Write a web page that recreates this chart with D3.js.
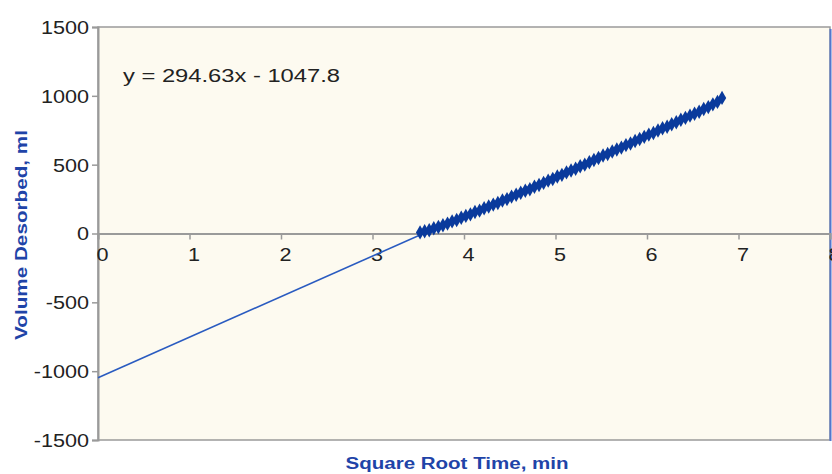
<!DOCTYPE html>
<html>
<head>
<meta charset="utf-8">
<script src="https://cdn.jsdelivr.net/npm/d3@7"></script>
<style>
  body { margin: 0; background: #fff; }
  svg { display: block; font-family: "Liberation Sans", Arial, sans-serif; }
</style>
</head>
<body>
<div id="chart"></div>
<script>
var W = 832, H = 474;
var margin = {left: 98, right: 2, top: 27, bottom: 34};

// sqrt time (min^0.5) and volume desorbed (ml)
var sqrtTime = [3.52,3.57,3.62,3.67,3.72,3.77,3.82,3.87,3.92,3.97,4.02,4.07,4.12,4.17,4.22,4.27,4.32,4.37,4.42,4.47,
  4.52,4.57,4.62,4.67,4.72,4.77,4.82,4.87,4.92,4.97,5.02,5.07,5.12,5.17,5.22,5.27,5.32,5.37,5.42,5.47,
  5.52,5.57,5.62,5.67,5.72,5.77,5.82,5.87,5.92,5.97,6.02,6.07,6.12,6.17,6.22,6.27,6.32,6.37,6.42,6.47,
  6.52,6.57,6.62,6.67,6.72,6.77,6.82];
var volume = [8,16,24,38,47,60,72,88,98,115,128,139,156,166,184,196,210,222,240,250,
  268,281,296,310,322,340,352,368,384,396,414,426,444,458,470,488,500,518,534,548,
  566,578,596,610,624,642,654,672,686,702,718,730,748,764,776,794,808,826,840,856,
  870,884,904,918,938,956,985];

// linear trendline
var slope = 294.63, intercept = -1047.8;
var trendX = [0, 6.82];
var eqLabel = "y = 294.63x - 1047.8";

var xTicks = [0,1,2,3,4,5,6,7,8];
var yTicks = [-1500,-1000,-500,0,500,1000,1500];

var svg = d3.select("#chart").append("svg")
    .attr("width", W).attr("height", H);

var x = d3.scaleLinear().domain([0, 8]).range([margin.left, W - margin.right]);
var y = d3.scaleLinear().domain([-1500, 1500]).range([H - margin.bottom, margin.top]);

// widen text like the original (stretched image)
function stretch(sel, k) {
  sel.each(function() {
    var len = this.getComputedTextLength();
    d3.select(this).attr("textLength", len * k).attr("lengthAdjust", "spacingAndGlyphs");
  });
}

// plot area
svg.append("rect")
    .attr("x", x(0)).attr("y", y(1500))
    .attr("width", x(8) - x(0)).attr("height", y(-1500) - y(1500))
    .attr("fill", "#fdfaf0")
    .attr("stroke", "#9a9a9a").attr("stroke-width", 1.5);

// right frame edge
svg.append("line")
    .attr("x1", x(8) + 0.5).attr("x2", x(8) + 0.5)
    .attr("y1", y(1500) + 2).attr("y2", y(-1500) + 1)
    .attr("stroke", "#5577cc").attr("stroke-width", 2);

var fmt = function(d) { return String(d).replace("\u2212", "-"); };

// y axis
var yAxis = svg.append("g")
    .attr("transform", "translate(" + x(0) + ",0)")
    .call(d3.axisLeft(y).tickValues(yTicks).tickFormat(fmt).tickSize(6).tickPadding(3));
// x axis at y=0
var xAxis = svg.append("g")
    .attr("transform", "translate(0," + y(0) + ")")
    .call(d3.axisBottom(x).tickValues(xTicks).tickFormat(fmt).tickSize(6).tickPadding(4));

[xAxis, yAxis].forEach(function(a) {
  a.select(".domain").attr("stroke", "#9a9a9a").attr("stroke-width", 2);
  a.selectAll(".tick line").attr("stroke", "#9a9a9a").attr("stroke-width", 1.5);
  a.selectAll(".tick text").attr("fill", "#222").style("font-size", "18px");
});
xAxis.selectAll(".tick text").attr("dx", 4).attr("dy", "0.95em");
yAxis.selectAll(".tick text").attr("dy", "0.36em");
stretch(xAxis.selectAll(".tick text"), 1.2);
stretch(yAxis.selectAll(".tick text"), 1.2);

// trendline
svg.append("line")
    .attr("x1", x(trendX[0])).attr("y1", y(slope * trendX[0] + intercept))
    .attr("x2", x(trendX[1])).attr("y2", y(slope * trendX[1] + intercept))
    .attr("stroke", "#2a5bc0").attr("stroke-width", 1.6);

// data markers
var diamond = d3.symbol().type(d3.symbolDiamond).size(60);
svg.append("g").selectAll("path")
    .data(sqrtTime.map(function(t, i) { return {t: t, v: volume[i]}; }))
    .enter().append("path")
    .attr("d", diamond)
    .attr("transform", function(d) { return "translate(" + x(d.t) + "," + y(d.v) + ")"; })
    .attr("fill", "#0a3a9c");

// equation
svg.append("text")
    .attr("x", 123).attr("y", 82)
    .attr("fill", "#222").style("font-size", "18px")
    .attr("textLength", 217).attr("lengthAdjust", "spacingAndGlyphs")
    .text(eqLabel);

// axis titles
svg.append("text")
    .attr("transform", "translate(27," + 235 + ") rotate(-90)")
    .attr("text-anchor", "middle")
    .attr("fill", "#1f44a8").style("font-size", "17px").style("font-weight", "bold")
    .attr("textLength", 210).attr("lengthAdjust", "spacingAndGlyphs")
    .text("Volume Desorbed, ml");

svg.append("text")
    .attr("x", 457).attr("y", 469)
    .attr("text-anchor", "middle")
    .attr("fill", "#1f44a8").style("font-size", "16px").style("font-weight", "bold")
    .attr("textLength", 223).attr("lengthAdjust", "spacingAndGlyphs")
    .text("Square Root Time, min");
</script>
</body>
</html>
